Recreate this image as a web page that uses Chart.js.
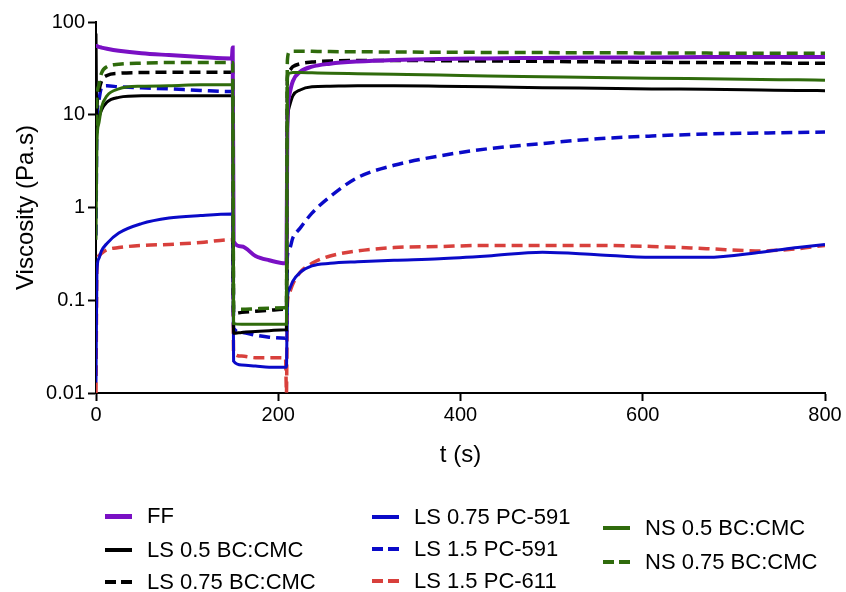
<!DOCTYPE html>
<html>
<head>
<meta charset="utf-8">
<script src="https://cdn.jsdelivr.net/npm/chart.js@4"></script>
<style>
  body { margin: 0; background: #fff; font-family: "Liberation Sans", Arial, sans-serif; }
  #wrap { position: relative; width: 846px; height: 592px; }
  #chart { position: absolute; left: 0; top: 0; }
  .item { position: absolute; height: 30px; display: flex; align-items: center; font-size: 22px; color: #000; white-space: nowrap; }
  .mark { display: inline-block; width: 27px; margin-right: 15px; }
</style>
</head>
<body>
<div id="wrap">
  <canvas id="chart" width="846" height="592"></canvas>
  <div id="legend"></div>
</div>
<script>
// time points (s)
const times = [0, 1, 3, 6, 12, 25, 50, 80, 115, 149, 150, 151, 160, 175, 190, 208, 209, 210, 212, 216, 224, 237, 257, 287, 327, 377, 430, 490, 550, 610, 670, 730, 770, 800];

// viscosity (Pa.s) per sample
const ff       = [55, 55, 54, 53, 51.5, 49, 46, 44, 42, 40.5, 53, 0.43, 0.38, 0.3, 0.27, 0.25, 0.25, 8, 16, 23, 29, 33, 35.5, 37.5, 39, 40, 40.5, 41, 41.5, 41.5, 42, 42, 42, 42];
const ls05bc   = [75, 7, 9, 11.2, 13.7, 15.4, 16, 16, 16, 16, 16, 0.044, 0.045, 0.046, 0.047, 0.048, 0.048, 6, 12, 16, 18.5, 20, 20.3, 20.5, 20.5, 20.3, 20, 19.6, 19.3, 19, 18.8, 18.5, 18.3, 18.2];
const ls075bc  = [5, 12, 17.5, 23, 26.5, 28, 28.5, 28.7, 28.7, 28.7, 28.7, 0.072, 0.074, 0.076, 0.078, 0.08, 0.08, 25, 30, 33, 35.5, 37, 38, 38.5, 38.5, 38.3, 38, 37.6, 37.2, 36.8, 36.5, 36.2, 36, 36];
const ls075pc  = [0.013, 0.2, 0.28, 0.34, 0.41, 0.53, 0.67, 0.77, 0.82, 0.85, 0.85, 0.022, 0.02, 0.0195, 0.019, 0.019, 0.019, 0.1, 0.13, 0.16, 0.2, 0.235, 0.25, 0.26, 0.27, 0.28, 0.3, 0.33, 0.31, 0.29, 0.29, 0.33, 0.37, 0.4];
const ls15pc591 = [0.5, 8, 14, 19.5, 20.5, 20, 19.5, 19, 18.3, 17.8, 17.8, 0.05, 0.045, 0.042, 0.04, 0.039, 0.039, 0.3, 0.35, 0.47, 0.6, 0.87, 1.31, 2.1, 2.85, 3.6, 4.3, 4.9, 5.5, 5.9, 6.2, 6.35, 6.45, 6.5];
const ls15pc611 = [0.01, 0.22, 0.3, 0.32, 0.35, 0.37, 0.39, 0.4, 0.42, 0.45, 0.45, 0.027, 0.025, 0.024, 0.024, 0.024, 0.01, 0.09, 0.12, 0.15, 0.2, 0.25, 0.3, 0.34, 0.37, 0.38, 0.39, 0.39, 0.39, 0.38, 0.36, 0.34, 0.36, 0.39];
const ns05bc   = [0.45, 5, 8, 12, 16, 19, 20.3, 20.5, 21, 21, 21, 0.056, 0.055, 0.055, 0.055, 0.055, 0.055, 25, 28, 28.5, 28.5, 28.3, 28, 27.7, 27.3, 26.8, 26.2, 25.7, 25.2, 24.8, 24.4, 24, 23.8, 23.6];
const ns075bc  = [5, 15, 20.5, 28, 33, 35, 36, 36.5, 36.5, 36.5, 36.5, 0.08, 0.08, 0.081, 0.082, 0.083, 0.083, 38, 47, 48.5, 48.5, 48.3, 48, 47.8, 47.5, 47.2, 47, 46.8, 46.6, 46.4, 46.2, 46, 46, 46];

const yTicks = [0.01, 0.1, 1, 10, 100];
const yTickLabels = ['0.01', '0.1', '1', '10', '100'];

const series = [
  { label: 'FF', data: ff, color: '#7a10c4', dash: false, width: 4 },
  { label: 'LS 0.5 BC:CMC', data: ls05bc, color: '#000000', dash: false, width: 3 },
  { label: 'LS 0.75 BC:CMC', data: ls075bc, color: '#000000', dash: true, width: 3.5 },
  { label: 'LS 0.75 PC-591', data: ls075pc, color: '#0a0ac8', dash: false, width: 3 },
  { label: 'LS 1.5 PC-591', data: ls15pc591, color: '#0a0ac8', dash: true, width: 3.5 },
  { label: 'LS 1.5 PC-611', data: ls15pc611, color: '#d8403c', dash: true, width: 3.5 },
  { label: 'NS 0.5 BC:CMC', data: ns05bc, color: '#2f6b0c', dash: false, width: 3 },
  { label: 'NS 0.75 BC:CMC', data: ns075bc, color: '#2f6b0c', dash: true, width: 3.5 }
];

// legend slots: [left, centerY]
const legendPos = [[105, 516], [105, 550], [105, 582], [372, 517], [372, 549], [372, 581], [603, 528], [603, 562]];

const font = "'Liberation Sans', Arial, sans-serif";

const datasets = series.map((s, i) => ({
  label: s.label,
  data: times.map((t, j) => ({ x: t, y: s.data[j] })),
  borderColor: s.color,
  borderWidth: s.width,
  borderDash: s.dash ? [11, 6] : [],
  pointRadius: 0,
  fill: false,
  cubicInterpolationMode: 'monotone',
  order: s.color === '#2f6b0c' ? 0 : 1
}));

new Chart(document.getElementById('chart'), {
  type: 'line',
  data: { datasets: datasets },
  options: {
    responsive: false,
    animation: false,
    layout: { padding: { left: 12, top: 22, right: 21, bottom: 122 } },
    plugins: { legend: { display: false }, tooltip: { enabled: false } },
    scales: {
      x: {
        type: 'linear', min: 0, max: 800,
        ticks: { stepSize: 200, color: '#000', font: { family: font, size: 20 }, padding: 2, maxRotation: 0 },
        grid: { drawOnChartArea: false, drawTicks: true, tickLength: 8, tickWidth: 2, tickColor: '#000' },
        border: { color: '#000', width: 2 },
        title: { display: true, text: 't (s)', color: '#000', font: { family: font, size: 24 }, padding: 0 },
        afterFit: s => { s.height = 77; }
      },
      y: {
        type: 'logarithmic', min: 0.01, max: 100,
        afterBuildTicks: s => { s.ticks = yTicks.map(v => ({ value: v })); },
        ticks: {
          color: '#000', font: { family: font, size: 20 }, padding: 3,
          callback: v => yTickLabels[yTicks.indexOf(v)]
        },
        grid: { drawOnChartArea: false, drawTicks: true, tickLength: 8, tickWidth: 2, tickColor: '#000' },
        border: { color: '#000', width: 2 },
        title: { display: true, text: 'Viscosity (Pa.s)', color: '#000', font: { family: font, size: 24 }, padding: 0 },
        afterFit: s => { s.width = 84; }
      }
    }
  }
});

// legend
const legend = document.getElementById('legend');
series.forEach((s, i) => {
  const item = document.createElement('div');
  item.className = 'item';
  item.style.left = legendPos[i][0] + 'px';
  item.style.top = (legendPos[i][1] - 15) + 'px';
  const mark = document.createElement('span');
  mark.className = 'mark';
  mark.style.height = Math.round(s.width + 0.5) + 'px';
  mark.style.background = s.dash
    ? 'repeating-linear-gradient(to right, ' + s.color + ' 0 11px, transparent 11px 16px)'
    : s.color;
  item.appendChild(mark);
  item.appendChild(document.createTextNode(s.label));
  legend.appendChild(item);
});
</script>
</body>
</html>
